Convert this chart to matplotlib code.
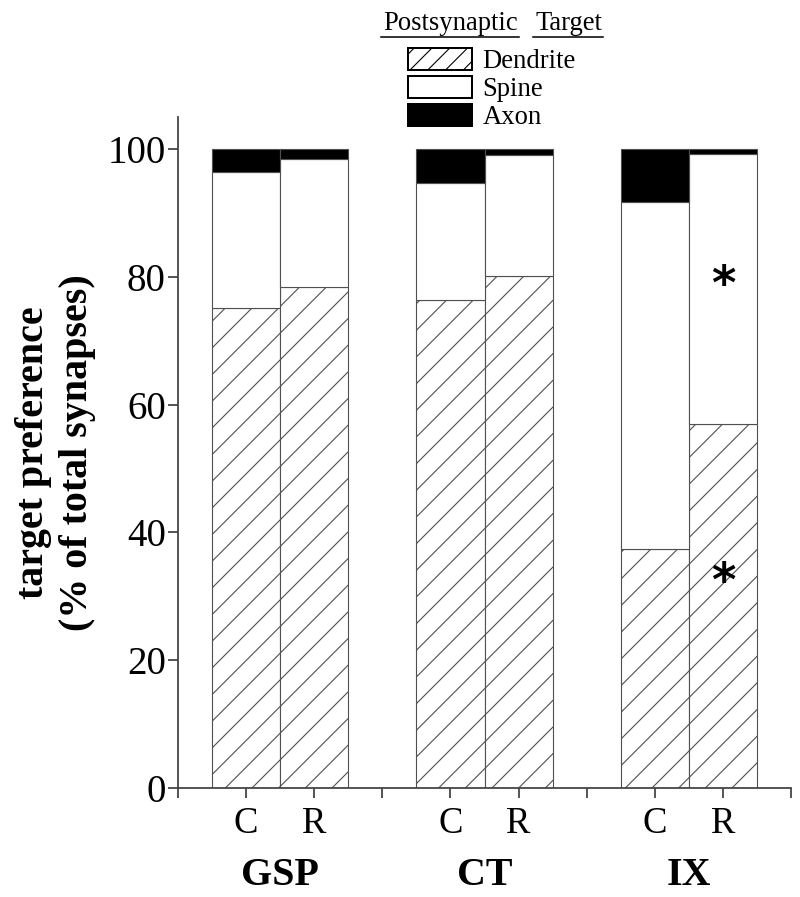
import numpy as np
import matplotlib
matplotlib.use("Agg")
import matplotlib.pyplot as plt
from matplotlib.patches import Patch
from matplotlib.lines import Line2D

plt.rcParams['font.family'] = ['Liberation Serif', 'DejaVu Serif']
plt.rcParams['hatch.linewidth'] = 0.5
plt.rcParams['hatch.color'] = '#555555'

# data (% of total synapses)
groups = ['GSP', 'CT', 'IX']
conds = ['C', 'R', 'C', 'R', 'C', 'R']
dendrite = [75.1, 78.4, 76.4, 80.1, 37.4, 57.0]
spine = [21.3, 20.0, 18.3, 19.0, 54.3, 42.2]
axon = [3.6, 1.6, 5.3, 0.9, 8.3, 0.8]
signif = [(5, 80.0), (5, 33.5)]   # (bar index, y) of the asterisks

DPI = 160
fig = plt.figure(figsize=(800 / DPI, 897 / DPI), dpi=DPI)
ax = fig.add_axes([0.2225, 0.1215, 0.76625, 0.748])

xpos = np.array([1, 2, 4, 5, 7, 8])
dend = np.array(dendrite)
spn = np.array(spine)
axn = np.array(axon)
ec = '#505050'
lw = 0.5
ax.bar(xpos, dend, width=1.0, color='white', edgecolor=ec, linewidth=lw, hatch='//')
ax.bar(xpos, spn, width=1.0, bottom=dend, color='white', edgecolor=ec, linewidth=lw)
ax.bar(xpos, axn, width=1.0, bottom=dend + spn, color='black', edgecolor=ec, linewidth=lw)

for i, y in signif:
    ax.text(xpos[i], y - 1.5, '*', ha='center', va='center', fontsize=21,
            fontweight='bold', family='DejaVu Sans')

ax.set_xlim(0, 9)
ax.set_ylim(0, 105)
ax.set_yticks([0, 20, 40, 60, 80, 100])
ax.set_xticks([0, 3, 6, 9])
ax.set_xticklabels([])
ax.set_xticks(xpos, minor=True)
ax.set_xticklabels(conds, minor=True)
ax.tick_params(axis='both', which='both', direction='out', length=4.5,
               width=0.8, color='#444444')
ax.tick_params(axis='y', labelsize=17.5, pad=1)
ax.tick_params(axis='x', which='minor', labelsize=16.5, pad=4)
for s in ['top', 'right']:
    ax.spines[s].set_visible(False)
for s in ['left', 'bottom']:
    ax.spines[s].set_linewidth(0.8)
    ax.spines[s].set_color('#444444')

for k, g in enumerate(groups):
    ax.text(3 * k + 1.5, -0.13, g, transform=ax.get_xaxis_transform(),
            ha='center', va='center', fontsize=18, fontweight='bold')

ax.set_ylabel('target preference\n(% of total synapses)', fontsize=18,
              fontweight='bold', linespacing=1.25, labelpad=5)

# legend
handles = [Patch(facecolor='white', edgecolor='black', hatch='///', linewidth=0.9),
           Patch(facecolor='white', edgecolor='black', linewidth=0.9),
           Patch(facecolor='black', edgecolor='black', linewidth=0.9)]
fig.legend(handles, ['Dendrite', 'Spine', 'Axon'], loc='upper left',
           bbox_to_anchor=(408 / 800, 1 - 48 / 897), frameon=False,
           fontsize=12, handlelength=2.4, handleheight=0.9,
           handletextpad=0.4, labelspacing=0.06, borderpad=0,
           borderaxespad=0)

t1 = fig.text(383 / 800, 1 - 23 / 897, 'Postsynaptic', fontsize=12, va='center')
t2 = fig.text(535 / 800, 1 - 23 / 897, 'Target', fontsize=12, va='center')
fig.canvas.draw()
r = fig.canvas.get_renderer()
for t in (t1, t2):
    bb = t.get_window_extent(r)
    yline = bb.y0 - 1
    fig.add_artist(Line2D([bb.x0 - 2, bb.x1 + 1], [yline, yline],
                          transform=None, color='black', linewidth=0.7))

fig.savefig('out.png', dpi=DPI)
